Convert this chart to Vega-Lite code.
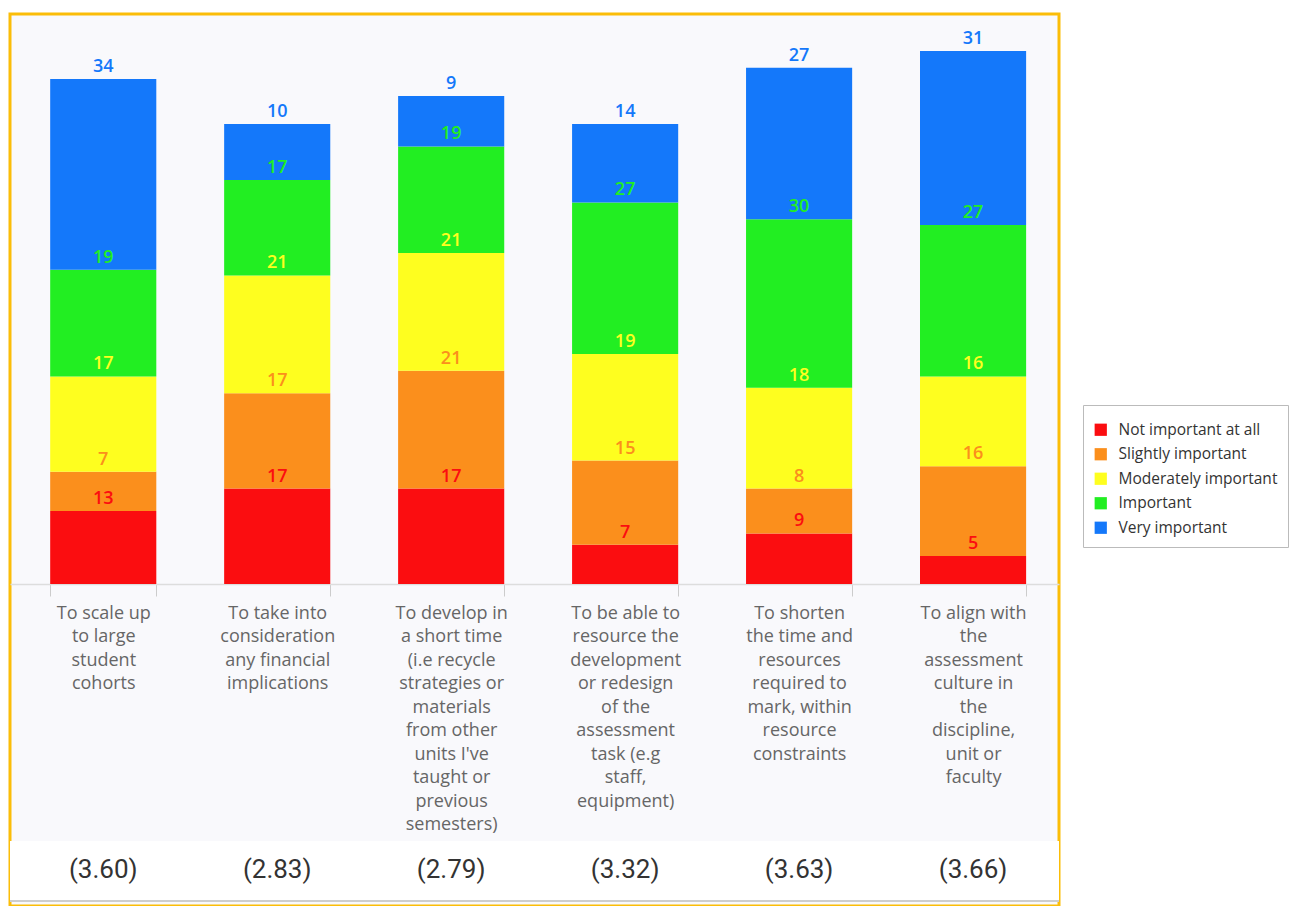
{
  "$schema": "https://vega.github.io/schema/vega-lite/v6.json",
  "width": 1049,
  "height": 892,
  "padding": {"left": 9, "top": 14, "right": 0, "bottom": 0},
  "autosize": {"type": "pad"},
  "background": "white",
  "config": {
    "view": {"stroke": "#fbbd08", "strokeWidth": 3, "fill": "#f9f9fc"},
    "font": "Open Sans"
  },
  "datasets": {
    "counts": [
      {"item": "To scale up\nto large\nstudent\ncohorts", "level": "Not important at all", "code": 1, "count": 13},
      {"item": "To scale up\nto large\nstudent\ncohorts", "level": "Slightly important", "code": 2, "count": 7},
      {"item": "To scale up\nto large\nstudent\ncohorts", "level": "Moderately important", "code": 3, "count": 17},
      {"item": "To scale up\nto large\nstudent\ncohorts", "level": "Important", "code": 4, "count": 19},
      {"item": "To scale up\nto large\nstudent\ncohorts", "level": "Very important", "code": 5, "count": 34},
      {"item": "To take into\nconsideration\nany financial\nimplications", "level": "Not important at all", "code": 1, "count": 17},
      {"item": "To take into\nconsideration\nany financial\nimplications", "level": "Slightly important", "code": 2, "count": 17},
      {"item": "To take into\nconsideration\nany financial\nimplications", "level": "Moderately important", "code": 3, "count": 21},
      {"item": "To take into\nconsideration\nany financial\nimplications", "level": "Important", "code": 4, "count": 17},
      {"item": "To take into\nconsideration\nany financial\nimplications", "level": "Very important", "code": 5, "count": 10},
      {"item": "To develop in\na short time\n(i.e recycle\nstrategies or\nmaterials\nfrom other\nunits I've\ntaught or\nprevious\nsemesters)", "level": "Not important at all", "code": 1, "count": 17},
      {"item": "To develop in\na short time\n(i.e recycle\nstrategies or\nmaterials\nfrom other\nunits I've\ntaught or\nprevious\nsemesters)", "level": "Slightly important", "code": 2, "count": 21},
      {"item": "To develop in\na short time\n(i.e recycle\nstrategies or\nmaterials\nfrom other\nunits I've\ntaught or\nprevious\nsemesters)", "level": "Moderately important", "code": 3, "count": 21},
      {"item": "To develop in\na short time\n(i.e recycle\nstrategies or\nmaterials\nfrom other\nunits I've\ntaught or\nprevious\nsemesters)", "level": "Important", "code": 4, "count": 19},
      {"item": "To develop in\na short time\n(i.e recycle\nstrategies or\nmaterials\nfrom other\nunits I've\ntaught or\nprevious\nsemesters)", "level": "Very important", "code": 5, "count": 9},
      {"item": "To be able to\nresource the\ndevelopment\nor redesign\nof the\nassessment\ntask (e.g\nstaff,\nequipment)", "level": "Not important at all", "code": 1, "count": 7},
      {"item": "To be able to\nresource the\ndevelopment\nor redesign\nof the\nassessment\ntask (e.g\nstaff,\nequipment)", "level": "Slightly important", "code": 2, "count": 15},
      {"item": "To be able to\nresource the\ndevelopment\nor redesign\nof the\nassessment\ntask (e.g\nstaff,\nequipment)", "level": "Moderately important", "code": 3, "count": 19},
      {"item": "To be able to\nresource the\ndevelopment\nor redesign\nof the\nassessment\ntask (e.g\nstaff,\nequipment)", "level": "Important", "code": 4, "count": 27},
      {"item": "To be able to\nresource the\ndevelopment\nor redesign\nof the\nassessment\ntask (e.g\nstaff,\nequipment)", "level": "Very important", "code": 5, "count": 14},
      {"item": "To shorten\nthe time and\nresources\nrequired to\nmark, within\nresource\nconstraints", "level": "Not important at all", "code": 1, "count": 9},
      {"item": "To shorten\nthe time and\nresources\nrequired to\nmark, within\nresource\nconstraints", "level": "Slightly important", "code": 2, "count": 8},
      {"item": "To shorten\nthe time and\nresources\nrequired to\nmark, within\nresource\nconstraints", "level": "Moderately important", "code": 3, "count": 18},
      {"item": "To shorten\nthe time and\nresources\nrequired to\nmark, within\nresource\nconstraints", "level": "Important", "code": 4, "count": 30},
      {"item": "To shorten\nthe time and\nresources\nrequired to\nmark, within\nresource\nconstraints", "level": "Very important", "code": 5, "count": 27},
      {"item": "To align with\nthe\nassessment\nculture in\nthe\ndiscipline,\nunit or\nfaculty", "level": "Not important at all", "code": 1, "count": 5},
      {"item": "To align with\nthe\nassessment\nculture in\nthe\ndiscipline,\nunit or\nfaculty", "level": "Slightly important", "code": 2, "count": 16},
      {"item": "To align with\nthe\nassessment\nculture in\nthe\ndiscipline,\nunit or\nfaculty", "level": "Moderately important", "code": 3, "count": 16},
      {"item": "To align with\nthe\nassessment\nculture in\nthe\ndiscipline,\nunit or\nfaculty", "level": "Important", "code": 4, "count": 27},
      {"item": "To align with\nthe\nassessment\nculture in\nthe\ndiscipline,\nunit or\nfaculty", "level": "Very important", "code": 5, "count": 31}
    ],
    "means": [
      {"item": "To scale up\nto large\nstudent\ncohorts", "mean": 3.60},
      {"item": "To take into\nconsideration\nany financial\nimplications", "mean": 2.83},
      {"item": "To develop in\na short time\n(i.e recycle\nstrategies or\nmaterials\nfrom other\nunits I've\ntaught or\nprevious\nsemesters)", "mean": 2.79},
      {"item": "To be able to\nresource the\ndevelopment\nor redesign\nof the\nassessment\ntask (e.g\nstaff,\nequipment)", "mean": 3.32},
      {"item": "To shorten\nthe time and\nresources\nrequired to\nmark, within\nresource\nconstraints", "mean": 3.63},
      {"item": "To align with\nthe\nassessment\nculture in\nthe\ndiscipline,\nunit or\nfaculty", "mean": 3.66}
    ]
  },
  "layer": [
    {
      "data": {"name": "means"},
      "mark": {"type": "rect", "color": "white"},
      "encoding": {
        "y": {"datum": -45.8, "type": "quantitative", "scale": {"domain": [-57.4, 101.6], "nice": false, "zero": false}, "axis": null},
        "y2": {"datum": -56.5}
      }
    },
    {
      "data": {"name": "means"},
      "mark": {"type": "rule", "color": "#cccccc", "strokeWidth": 1.5},
      "encoding": {
        "y": {"datum": -56.5, "type": "quantitative", "scale": {"domain": [-57.4, 101.6], "nice": false, "zero": false}, "axis": null}
      }
    },
    {
      "data": {"name": "counts"},
      "transform": [
        {"stack": "count", "groupby": ["item"], "sort": [{"field": "code", "order": "ascending"}], "as": ["y0", "y1"]}
      ],
      "mark": {"type": "bar"},
      "encoding": {
        "x": {
          "field": "item", "type": "nominal", "sort": null,
          "scale": {"paddingInner": 0.39, "paddingOuter": 0.21, "align": 0.55},
          "axis": {
            "title": null, "offset": -322, "labelAngle": 0,
            "labelExpr": "split(datum.label, '\\n')",
            "labelFontSize": 18, "labelColor": "#666666", "labelLineHeight": 23.5,
            "labelPadding": 8, "labelBaseline": "top", "labelLimit": 300,
            "tickBand": "extent", "tickSize": 12, "tickColor": "#cccccc",
            "domainColor": "#dddddd", "domainWidth": 1.5
          }
        },
        "y": {"field": "y1", "type": "quantitative", "scale": {"domain": [-57.4, 101.6], "nice": false, "zero": false}, "axis": null},
        "y2": {"field": "y0"},
        "color": {
          "field": "level", "type": "nominal",
          "scale": {
            "domain": ["Not important at all", "Slightly important", "Moderately important", "Important", "Very important"],
            "range": ["#fb0d10", "#fb8f1c", "#fefe1f", "#22ee22", "#1478fa"]
          },
          "legend": {
            "title": " ", "titleFontSize": 4, "titlePadding": 3,
            "orient": "none", "legendX": 1073, "legendY": 391,
            "symbolType": "square", "symbolSize": 150, "symbolStrokeWidth": 0,
            "labelFontSize": 15.5, "labelColor": "#333333", "labelOffset": 10,
            "strokeColor": "#bbbbbb", "fillColor": "white", "padding": 10, "rowPadding": 7.5,
            "labelLimit": 300
          }
        }
      }
    },
    {
      "data": {"name": "counts"},
      "transform": [
        {"stack": "count", "groupby": ["item"], "sort": [{"field": "code", "order": "ascending"}], "as": ["y0", "y1"]}
      ],
      "mark": {"type": "text", "baseline": "bottom", "dy": -3, "fontSize": 18, "fontWeight": 600},
      "encoding": {
        "x": {"field": "item", "type": "nominal", "sort": null},
        "y": {"field": "y1", "type": "quantitative", "scale": {"domain": [-57.4, 101.6], "nice": false, "zero": false}, "axis": null},
        "text": {"field": "count", "type": "quantitative"},
        "color": {"field": "level", "type": "nominal", "legend": null}
      }
    },
    {
      "data": {"name": "means"},
      "transform": [{"calculate": "'(' + format(datum.mean, '.2f') + ')'", "as": "label"}],
      "mark": {"type": "text", "baseline": "top", "fontSize": 26, "color": "#333333", "font": "Roboto"},
      "encoding": {
        "x": {"field": "item", "type": "nominal", "sort": null},
        "y": {"datum": -48.6, "type": "quantitative", "scale": {"domain": [-57.4, 101.6], "nice": false, "zero": false}, "axis": null},
        "text": {"field": "label", "type": "nominal"}
      }
    }
  ]
}
